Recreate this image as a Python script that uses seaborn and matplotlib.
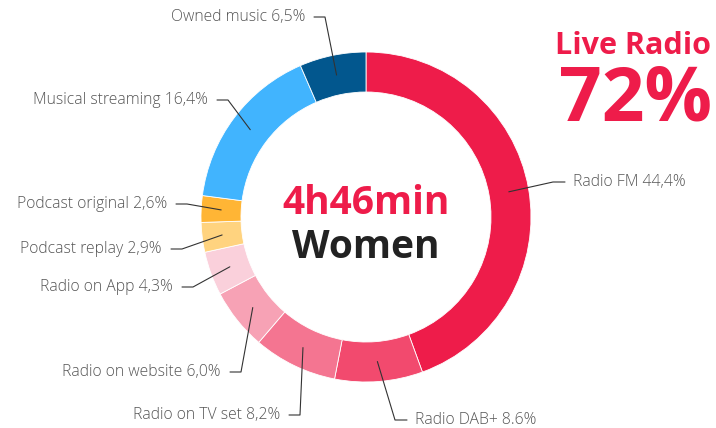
"""
Donut chart: listening time share by medium (women).
"""
import numpy as np
import seaborn as sns
import matplotlib.pyplot as plt

# data
categories = ["Radio FM", "Radio DAB+", "Radio on TV set", "Radio on website",
              "Radio on App", "Podcast replay", "Podcast original",
              "Musical streaming", "Owned music"]
shares = [44.4, 8.6, 8.2, 6.0, 4.3, 2.9, 2.6, 16.4, 6.5]
share_labels = ["44,4%", "8.6%", "8,2%", "6,0%", "4,3%", "2,9%", "2,6%", "16,4%", "6,5%"]
colors = ["#EE1C4A", "#F24A6E", "#F47591", "#F7A2B5", "#FAD0DB",
          "#FFD37F", "#FFB535", "#41B4FE", "#02578E"]
total_time = "4h46min"
group = "Women"
live_title = "Live Radio"
live_value = "72%"

# layout (image pixels, y down)
W, H = 716, 428
cx, cy = 366, 217
r_out, ring = 165, 40
r_anchor = 145
# text anchor per label: (x, y, side)
label_pos = [(573, 182, "right"), (415, 420, "right"), (280, 415, "left"),
             (221, 372, "left"), (173, 287, "left"), (162, 249, "left"),
             (167, 204, "left"), (208, 100, "left"), (305, 17, "left")]

red = "#EE1C4A"
text_grey = "#555555"
line_col = "#333333"

sns.set_theme(style="white")
plt.rcParams["font.family"] = ["Open Sans", "DejaVu Sans"]

fig = plt.figure(figsize=(W / 100, H / 100), dpi=100)
ax = fig.add_axes([0, 0, 1, 1])


def Y(y):
    return H - y


ax.pie(shares, colors=colors, startangle=90, counterclock=False,
       radius=r_out, center=(cx, Y(cy)),
       wedgeprops=dict(width=ring, edgecolor="white", linewidth=0.6))
ax.set_xlim(0, W)
ax.set_ylim(0, H)
ax.set_aspect("equal")
ax.axis("off")

# labels with elbow leader lines
cum = np.cumsum([0] + shares[:-1])
tot = sum(shares)
for cat, val, lab, c0, (tx, ty, side) in zip(categories, shares, share_labels, cum, label_pos):
    mid = np.deg2rad(90 - (c0 + val / 2) / tot * 360)
    axx = cx + r_anchor * np.cos(mid)
    axy = cy - r_anchor * np.sin(mid)
    if side == "left":
        x0, x1 = tx + 9, tx + 20
        ha = "right"
    else:
        x0, x1 = tx - 8, tx - 20
        ha = "left"
    ax.plot([x0, x1, axx], [Y(ty), Y(ty), Y(axy)], color=line_col, lw=0.8)
    ax.text(tx, Y(ty), f"{cat} {lab}", ha=ha, va="center", fontsize=11.3,
            color=text_grey, fontweight="light")

# centre text
ax.text(cx, Y(203), total_time, ha="center", va="center", fontsize=28,
        fontweight="bold", color=red)
ax.text(cx, Y(247), group, ha="center", va="center", fontsize=28,
        fontweight="bold", color="#222222")

# top-right callout
ax.text(711, Y(46), live_title, ha="right", va="center", fontsize=22,
        fontweight="bold", color=red)
ax.text(712, Y(101), live_value, ha="right", va="center", fontsize=54,
        fontweight="bold", color=red)

fig.savefig("out.png", dpi=100)
plt.close(fig)
